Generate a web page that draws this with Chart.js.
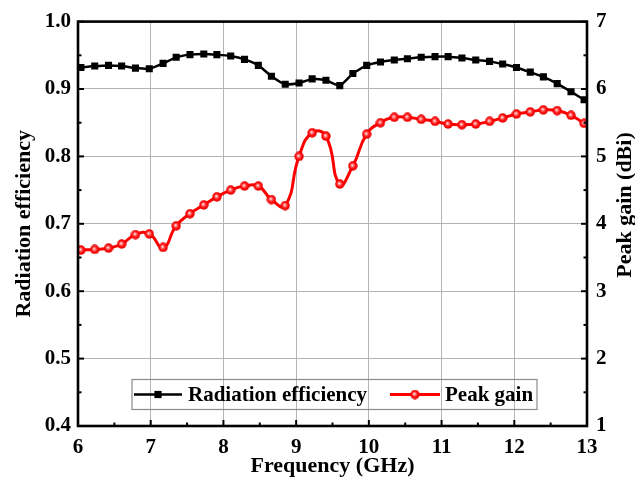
<!DOCTYPE html>
<html>
<head>
<meta charset="utf-8">
<script src="https://cdn.jsdelivr.net/npm/chart.js@4/dist/chart.umd.min.js"></script>
<style>
  html, body { margin: 0; padding: 0; background: #fff; }
  #wrap { width: 635px; height: 485px; }
</style>
</head>
<body>
<div id="wrap"><canvas id="c" width="635" height="485"></canvas></div>
<script>
// ---- data ----
const frequency = [6.04, 6.23, 6.42, 6.60, 6.79, 6.98, 7.17, 7.35, 7.54, 7.73, 7.91, 8.10, 8.29,
  8.48, 8.66, 8.85, 9.04, 9.22, 9.41, 9.60, 9.78, 9.97, 10.16, 10.35, 10.53, 10.72, 10.91,
  11.09, 11.28, 11.47, 11.66, 11.84, 12.03, 12.22, 12.40, 12.59, 12.78, 12.96];
const radiationEfficiency = [0.932, 0.934, 0.935, 0.934, 0.931, 0.930, 0.938, 0.947, 0.951, 0.952,
  0.951, 0.949, 0.944, 0.935, 0.919, 0.907, 0.909, 0.915, 0.913, 0.905, 0.923, 0.935, 0.940,
  0.943, 0.945, 0.947, 0.948, 0.948, 0.946, 0.943, 0.941, 0.937, 0.932, 0.925, 0.918, 0.908,
  0.896, 0.884];
const peakGain = [3.61, 3.62, 3.64, 3.70, 3.84, 3.85, 3.65, 3.97, 4.15, 4.28, 4.40, 4.50, 4.56,
  4.56, 4.36, 4.27, 5.00, 5.35, 5.30, 4.59, 4.86, 5.33, 5.50, 5.58, 5.58, 5.55, 5.52, 5.48,
  5.47, 5.48, 5.52, 5.57, 5.63, 5.66, 5.69, 5.68, 5.61, 5.49];
const xTickValues = [6, 7, 8, 9, 10, 11, 12, 13];
const effTickValues = [0.4, 0.5, 0.6, 0.7, 0.8, 0.9, 1.0];
const gainTickValues = [1, 2, 3, 4, 5, 6, 7];
const seriesLabels = ['Radiation efficiency', 'Peak gain'];
const axisTitles = { x: 'Frequency (GHz)', left: 'Radiation efficiency', right: 'Peak gain (dBi)' };

// ---- styling ----
const FONT = '"Liberation Serif", "Times New Roman", serif';

// red "ball" marker
function makeBall(size) {
  const c = document.createElement('canvas');
  c.width = size; c.height = size;
  const g = c.getContext('2d');
  const r = size / 2;
  const grad = g.createRadialGradient(r - 0.7, r - 0.7, 0.3, r, r, r);
  grad.addColorStop(0, '#fff0f0');
  grad.addColorStop(0.28, '#ff6060');
  grad.addColorStop(0.65, '#ff0000');
  grad.addColorStop(1, '#d80000');
  g.fillStyle = grad;
  g.beginPath(); g.arc(r, r, r - 0.3, 0, Math.PI * 2); g.fill();
  return c;
}
const ball = makeBall(10);

function setTicks(values) {
  return function (scale) { scale.ticks = values.map(v => ({ value: v })); };
}

const framePlugin = {
  id: 'frame',
  afterDraw(chart) {
    const { ctx, chartArea: a, scales } = chart;
    ctx.save();
    ctx.strokeStyle = '#000';
    ctx.lineCap = 'butt';
    ctx.lineWidth = 2;
    const line = (x1, y1, x2, y2) => { ctx.beginPath(); ctx.moveTo(x1, y1); ctx.lineTo(x2, y2); ctx.stroke(); };
    for (let i = 0; i < xTickValues.length; i++) {
      const v = xTickValues[i];
      const px = scales.x.getPixelForValue(v);
      line(px, a.bottom, px, a.bottom - 6);
      if (i < xTickValues.length - 1) {
        const m = scales.x.getPixelForValue((v + xTickValues[i + 1]) / 2);
        line(m, a.bottom, m, a.bottom - 3.5);
      }
    }
    for (let i = 0; i < effTickValues.length; i++) {
      const v = effTickValues[i];
      const py = scales.y.getPixelForValue(v);
      line(a.left, py, a.left + 6, py);
      if (i < effTickValues.length - 1) {
        const m = scales.y.getPixelForValue((v + effTickValues[i + 1]) / 2);
        line(a.left, m, a.left + 3.5, m);
      }
    }
    for (let i = 0; i < gainTickValues.length; i++) {
      const v = gainTickValues[i];
      const py = scales.y1.getPixelForValue(v);
      line(a.right, py, a.right - 6, py);
      if (i < gainTickValues.length - 1) {
        const m = scales.y1.getPixelForValue((v + gainTickValues[i + 1]) / 2);
        line(a.right, m, a.right - 3.5, m);
      }
    }
    ctx.lineWidth = 2.6;
    ctx.strokeRect(a.left, a.top, a.right - a.left, a.bottom - a.top);

    // right axis title (reads bottom-to-top)
    ctx.fillStyle = '#000';
    ctx.font = 'bold 22px ' + FONT;
    ctx.textAlign = 'center';
    ctx.textBaseline = 'middle';
    ctx.translate(625, 205);
    ctx.rotate(-Math.PI / 2);
    ctx.fillText(axisTitles.right, 0, 0);
    ctx.restore();

    // legend box
    ctx.save();
    const L = { x: 132, y: 379.5, w: 405, h: 30 };
    ctx.strokeStyle = '#8a8a8a';
    ctx.lineWidth = 1.2;
    ctx.strokeRect(L.x, L.y, L.w, L.h);
    const cy = L.y + L.h / 2;
    ctx.font = 'bold 21px ' + FONT;
    ctx.textBaseline = 'middle';
    ctx.textAlign = 'left';
    ctx.fillStyle = '#000';
    ctx.strokeStyle = '#000'; ctx.lineWidth = 2.5;
    line(L.x + 2, cy, L.x + 50, cy);
    ctx.fillRect(L.x + 26 - 3.6, cy - 3.6, 7.2, 7.2);
    ctx.fillText(seriesLabels[0], L.x + 56, cy + 1);
    ctx.strokeStyle = '#ff0000'; ctx.lineWidth = 3;
    line(L.x + 258, cy, L.x + 308, cy);
    ctx.drawImage(ball, L.x + 283 - 5, cy - 5);
    ctx.fillText(seriesLabels[1], L.x + 313, cy + 1);
    ctx.restore();
  }
};

const toXY = (ys) => ys.map((y, i) => ({ x: frequency[i], y }));

new Chart(document.getElementById('c'), {
  type: 'line',
  data: {
    datasets: [
      {
        label: seriesLabels[0],
        data: toXY(radiationEfficiency),
        yAxisID: 'y',
        borderColor: '#000',
        backgroundColor: '#000',
        borderWidth: 2.5,
        pointStyle: 'rect',
        pointRadius: 5,
        pointBorderWidth: 0,
        pointBackgroundColor: '#000',
        tension: 0.15
      },
      {
        label: seriesLabels[1],
        data: toXY(peakGain),
        yAxisID: 'y1',
        borderColor: '#ff0000',
        backgroundColor: '#ff0000',
        borderWidth: 3,
        pointStyle: ball,
        pointRadius: 5,
        tension: 0.5
      }
    ]
  },
  options: {
    responsive: false,
    animation: false,
    devicePixelRatio: 1,
    layout: { padding: { top: 17, left: 0, right: 0, bottom: 0 } },
    plugins: { legend: { display: false }, tooltip: { enabled: false } },
    scales: {
      x: {
        type: 'linear',
        position: 'bottom',
        min: 6, max: 13,
        afterBuildTicks: setTicks(xTickValues),
        afterFit(s) { s.height = 59; },
        grid: { color: '#b4b4b4', lineWidth: 1, drawTicks: false },
        border: { display: false },
        ticks: {
          color: '#000', padding: 9,
          font: { family: FONT, size: 21, weight: 'bold' },
          maxRotation: 0
        },
        title: {
          display: true, text: axisTitles.x, color: '#000',
          font: { family: FONT, size: 22, weight: 'bold', lineHeight: 1 },
          padding: { top: 0, bottom: 8 }
        }
      },
      y: {
        type: 'linear',
        position: 'left',
        min: 0.4, max: 1.0,
        afterBuildTicks: setTicks(effTickValues),
        afterFit(s) { s.width = 78; },
        grid: { color: '#b4b4b4', lineWidth: 1, drawTicks: false },
        border: { display: false },
        ticks: {
          color: '#000', padding: 7,
          font: { family: FONT, size: 21, weight: 'bold' },
          callback: (v) => Number(v).toFixed(1)
        },
        title: {
          display: true, text: axisTitles.left, color: '#000',
          font: { family: FONT, size: 22, weight: 'bold', lineHeight: 1 },
          padding: { top: 13, bottom: 0 }
        }
      },
      y1: {
        type: 'linear',
        position: 'right',
        min: 1, max: 7,
        afterBuildTicks: setTicks(gainTickValues),
        afterFit(s) { s.width = 48; },
        grid: { drawOnChartArea: false, drawTicks: false },
        border: { display: false },
        ticks: {
          color: '#000', padding: 9,
          font: { family: FONT, size: 21, weight: 'bold' },
          callback: (v) => String(v)
        }
      }
    }
  },
  plugins: [framePlugin]
});
</script>
</body>
</html>
